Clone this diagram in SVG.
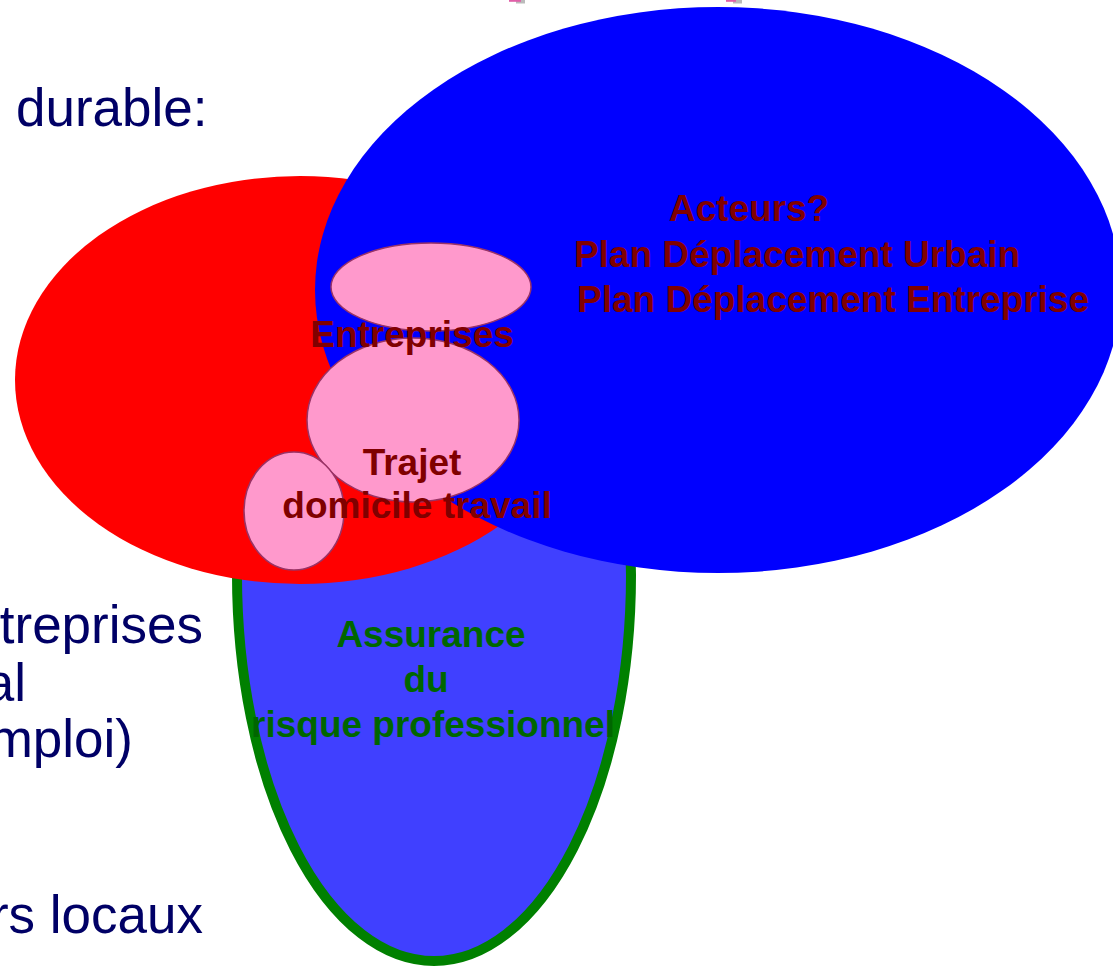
<svg xmlns="http://www.w3.org/2000/svg" width="1113" height="968" viewBox="0 0 1113 968">
<style>
.side{font-family:"Liberation Sans",Arial,sans-serif;font-size:53px;fill:#000066}
.lbl{font-family:"Liberation Sans",Arial,sans-serif;font-size:37px;font-weight:bold;fill:#800000;text-anchor:middle}
.grn{font-family:"Liberation Sans",Arial,sans-serif;font-size:37px;font-weight:bold;fill:#006600;text-anchor:middle}
.pink{fill:#FF99CC;stroke:#993366;stroke-width:1.5}
</style>
<rect width="1113" height="968" fill="#FFFFFF"/>
<g id="top-marks">
<rect x="516" y="0" width="9" height="3.5" fill="#BBBBBB"/>
<rect x="509" y="0" width="12" height="1.8" fill="#E060A8"/>
<rect x="733" y="0" width="9" height="3.5" fill="#BBBBBB"/>
<rect x="726" y="0" width="10" height="1.8" fill="#E060A8"/>
</g>
<g id="side-text">
<text class="side" x="16" y="126">durable:</text>
<text class="side" x="203" y="643" text-anchor="end">treprises</text>
<text class="side" x="26" y="701" text-anchor="end">al</text>
<text class="side" x="133" y="757" text-anchor="end">mploi)</text>
<text class="side" x="203" y="933" text-anchor="end">rs locaux</text>
</g>
<g id="assurance">
<ellipse cx="434" cy="575" rx="197" ry="386" fill="#4040FF" stroke="#008000" stroke-width="10"/>
</g>
<g id="rouge">
<ellipse cx="300" cy="380" rx="285" ry="204" fill="#FF0000"/>
</g>
<g id="acteurs">
<ellipse cx="718" cy="290" rx="403" ry="283" fill="#0000FF"/>
</g>
<g id="pink-top"><ellipse class="pink" cx="431" cy="287" rx="100" ry="44"/></g>
<g id="pink-mid"><ellipse class="pink" cx="413" cy="420" rx="106" ry="82"/></g>
<g id="pink-small"><ellipse class="pink" cx="294" cy="511" rx="50" ry="59"/></g>
<g id="labels">
<text class="lbl" x="749" y="221">Acteurs?</text>
<text class="lbl" x="797" y="267">Plan Déplacement Urbain</text>
<text class="lbl" x="833" y="312">Plan Déplacement Entreprise</text>
<text class="lbl" x="412" y="347">Entreprises</text>
<text class="lbl" x="412" y="475">Trajet</text>
<text class="lbl" x="417" y="518">domicile travail</text>
<text class="grn" x="431" y="647">Assurance</text>
<text class="grn" x="426" y="692">du</text>
<text class="grn" x="433" y="737">risque professionnel</text>
</g>
</svg>
